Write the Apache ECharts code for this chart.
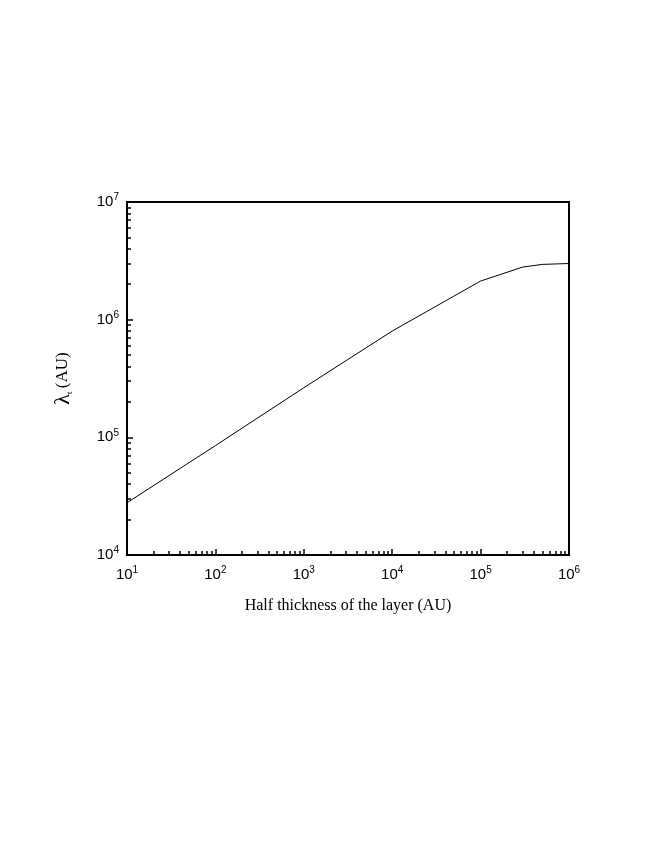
<!DOCTYPE html>
<html>
<head>
<meta charset="utf-8">
<script src="https://cdn.jsdelivr.net/npm/echarts@6/dist/echarts.min.js"></script>
<style>
  html, body { margin: 0; padding: 0; background: #fff; }
  #main { width: 654px; height: 846px; }
</style>
</head>
<body>
<div id="main"></div>
<script>
  // half thickness (AU) vs lambda_t (AU)
  var thickness = [10, 100, 1000, 10000, 100000, 300000, 500000, 1000000];
  var lambdaT = [27800, 85000, 264000, 800000, 2130000, 2800000, 2950000, 3000000];

  var points = [];
  for (var i = 0; i < thickness.length; i++) {
    points.push([thickness[i], lambdaT[i]]);
  }

  function powLabel(v) {
    var e = Math.round(Math.log10(v));
    return '10{sup|' + e + '}';
  }

  var labelRich = {
    sup: { fontSize: 10, verticalAlign: 'top', padding: [0, 0, 9, 0], color: '#000', fontFamily: 'Liberation Sans' }
  };

  var chart = echarts.init(document.getElementById('main'));
  var option = {
    animation: false,
    backgroundColor: '#fff',
    grid: { left: 127, top: 202, right: 85, bottom: 291 },
    xAxis: {
      type: 'log',
      min: 10,
      max: 1000000,
      logBase: 10,
      name: 'Half thickness of the layer (AU)',
      nameLocation: 'middle',
      nameGap: 43,
      nameTextStyle: { fontFamily: 'Liberation Serif', fontSize: 16, color: '#000' },
      axisLine: { lineStyle: { color: '#000', width: 2 } },
      axisTick: { inside: true, length: 6, lineStyle: { color: '#000', width: 1.5 } },
      minorTick: { show: true, splitNumber: 9, length: 4, lineStyle: { color: '#000', width: 1.5 } },
      splitLine: { show: false },
      axisLabel: {
        margin: 10,
        fontFamily: 'Liberation Sans',
        fontSize: 15,
        color: '#000',
        formatter: powLabel,
        rich: labelRich
      }
    },
    yAxis: {
      type: 'log',
      min: 10000,
      max: 10000000,
      logBase: 10,
      name: '{l|λ}{s|t} {a|(AU)}',
      nameLocation: 'middle',
      nameRotate: 90,
      nameGap: 53,
      nameTextStyle: {
        rich: {
          l: { fontFamily: 'Liberation Serif', fontSize: 22, color: '#000' },
          s: { fontFamily: 'Liberation Serif', fontSize: 9, color: '#000', verticalAlign: 'bottom', padding: [9, 0, 0, 0] },
          a: { fontFamily: 'Liberation Serif', fontSize: 17, color: '#000' }
        }
      },
      axisLine: { lineStyle: { color: '#000', width: 2 } },
      axisTick: { inside: true, length: 6, lineStyle: { color: '#000', width: 1.5 } },
      minorTick: { show: true, splitNumber: 9, length: 4, lineStyle: { color: '#000', width: 1.5 } },
      splitLine: { show: false },
      axisLabel: {
        margin: 8,
        fontFamily: 'Liberation Sans',
        fontSize: 15,
        color: '#000',
        formatter: powLabel,
        rich: labelRich
      }
    },
    series: [
      {
        type: 'line',
        data: points,
        symbol: 'none',
        lineStyle: { color: '#000', width: 1 }
      },
      {
        // box around the plot
        type: 'line',
        data: [],
        markArea: {
          silent: true,
          itemStyle: { color: 'rgba(0,0,0,0)', borderColor: '#000', borderWidth: 2 },
          data: [[{ coord: [10, 10000] }, { coord: [1000000, 10000000] }]]
        }
      }
    ]
  };
  chart.setOption(option);
</script>
</body>
</html>
